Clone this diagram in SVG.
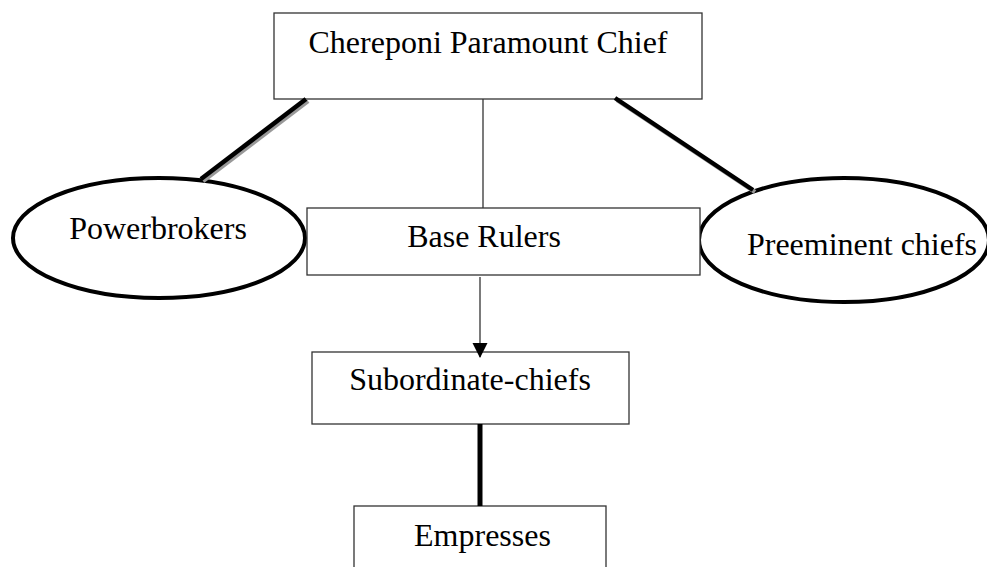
<svg xmlns="http://www.w3.org/2000/svg" width="987" height="567" viewBox="0 0 987 567">
<style>
.box{fill:#fff;stroke:#333;stroke-width:1.3}
.ell{fill:#fff;stroke:#000;stroke-width:4}
.t{font-family:"Liberation Serif","Times New Roman",serif;font-size:32px;fill:#000;text-anchor:middle}
.thin{stroke:#333;stroke-width:1.3;fill:none}
.thick{stroke:#000;stroke-width:4.5;stroke-linecap:butt;fill:none}
.shadow{stroke:#999;stroke-width:4.5;fill:none}
</style>
<defs>
<marker id="arr" markerWidth="16" markerHeight="16" refX="14" refY="7.5" orient="auto" markerUnits="userSpaceOnUse">
<path d="M0,0 L15,7.5 L0,15 Z" fill="#000"/>
</marker>
</defs>
<rect width="987" height="567" fill="#fff"/>
<g id="n_chief">
<rect class="box" x="274" y="13" width="428" height="86"/>
<text class="t" x="488" y="53">Chereponi Paramount Chief</text>
</g>
<g id="n_powerbrokers">
<ellipse class="ell" cx="159" cy="238" rx="146" ry="60"/>
<text class="t" x="158" y="239">Powerbrokers</text>
</g>
<g id="n_preeminent">
<ellipse class="ell" cx="844" cy="240" rx="145" ry="62"/>
<text class="t" x="862" y="255">Preeminent chiefs</text>
</g>
<g id="n_base">
<rect class="box" x="307" y="208" width="393" height="67"/>
<text class="t" x="484" y="247">Base Rulers</text>
</g>
<g id="n_subordinate">
<rect class="box" x="312" y="352" width="317" height="72"/>
<text class="t" x="470" y="390">Subordinate-chiefs</text>
</g>
<g id="n_empresses">
<rect class="box" x="354" y="506" width="252" height="70"/>
<text class="t" x="482.5" y="546">Empresses</text>
</g>
<g id="connectors">
<line class="shadow" x1="308" y1="101" x2="203" y2="181"/>
<line class="thick" x1="306" y1="99" x2="201" y2="179"/>
<line class="shadow" x1="617" y1="100" x2="755" y2="192"/>
<line class="thick" x1="615" y1="98" x2="753" y2="190"/>
<line class="thin" x1="483" y1="99" x2="483" y2="208"/>
<line class="thin" x1="480" y1="277" x2="480" y2="357" marker-end="url(#arr)"/>
<line x1="480" y1="424" x2="480" y2="506" stroke="#000" stroke-width="5"/>
</g>
</svg>
